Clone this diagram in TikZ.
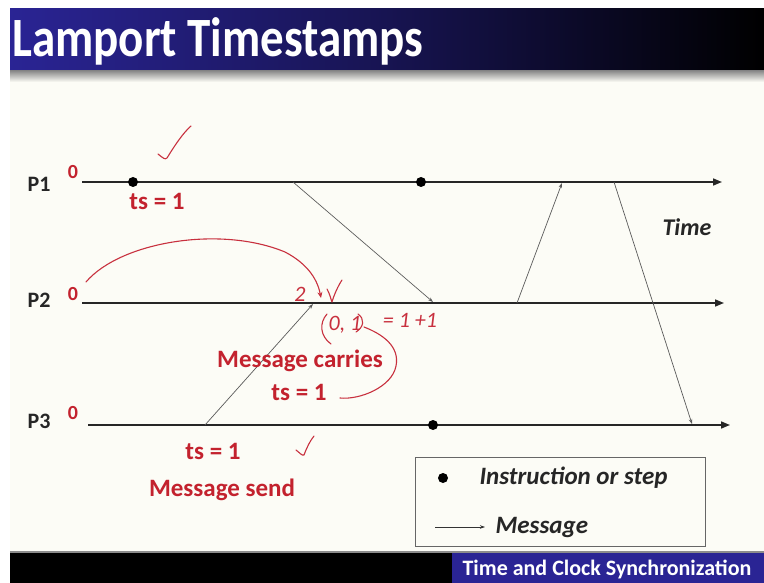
\documentclass[tikz,border=0pt]{standalone}
\usepackage{fontspec}
\setmainfont{Carlito}
\usetikzlibrary{arrows.meta}
\definecolor{slidebg}{HTML}{FCFCF6}
\definecolor{titleblue}{HTML}{2A2494}
\definecolor{labelred}{HTML}{C3222E}
\definecolor{penred}{HTML}{C8303E}
\definecolor{msggray}{HTML}{5A5A5A}
\tikzset{
  x=1pt, y=-1pt,
  timeline/.style={line width=1.6pt, draw=black!85, -{Triangle[length=9pt,width=7pt]}},
  msg/.style={line width=0.7pt, draw=msggray, -{Stealth[length=5pt,width=3.5pt]}},
  event/.style={circle, fill=black, inner sep=0pt, minimum size=10pt},
  proc/.style={font=\bfseries\fontsize{22}{24}\selectfont, text=black!85},
  zero/.style={font=\bfseries\fontsize{20}{22}\selectfont, text=labelred},
  redlabel/.style={font=\bfseries\fontsize{25}{28}\selectfont, text=labelred, align=center},
  pen/.style={draw=penred, line width=1.1pt, line cap=round, line join=round},
  pentext/.style={font=\itshape\fontsize{22}{24}\selectfont, text=penred},
  legendtext/.style={font=\bfseries\itshape\fontsize{25}{28}\selectfont, text=black!85, anchor=west}
}
\begin{document}
\begin{tikzpicture}
\useasboundingbox (0,0) rectangle (764,583);
\fill[white] (0,0) rectangle (764,583);
\fill[slidebg] (10,9) rectangle (764,553);

% title bar and its shadow
\shade[left color=titleblue, right color=black, middle color=titleblue!55!black] (10,9) rectangle (764,71);
\shade[top color=black!45, bottom color=slidebg] (10,71) rectangle (764,82);
\node[anchor=west, text=white, font=\bfseries\fontsize{47}{50}\selectfont, yscale=1.18, inner sep=0pt] (title) at (12,41) {Lamport Timestamps};

% footer bar
\fill[black!45] (10,551) rectangle (764,553);
\fill[black] (10,553) rectangle (452,583);
\fill[titleblue] (452,553) rectangle (764,583);
\node[text=white, font=\bfseries\fontsize{22}{24}\selectfont] (footer) at (607,569) {Time and Clock Synchronization};

% process time lines
\coordinate (p1s) at (82,182);  \coordinate (p1e) at (722,182);
\coordinate (p2s) at (82,303);  \coordinate (p2e) at (724,303);
\coordinate (p3s) at (88,425);  \coordinate (p3e) at (730,425);
\draw[timeline] (p1s) -- (p1e);
\draw[timeline] (p2s) -- (p2e);
\draw[timeline] (p3s) -- (p3e);

\node[proc] (P1) at (39,184) {P1};
\node[proc] (P2) at (39,300) {P2};
\node[proc] (P3) at (39,421) {P3};
\node[zero] (z1) at (73,172) {0};
\node[zero] (z2) at (73,294) {0};
\node[zero] (z3) at (73,413) {0};

\node[font=\bfseries\itshape\fontsize{24}{26}\selectfont, text=black!85] (time) at (687,227) {Time};

% events
\node[event] (e1) at (133,182) {};
\node[event] (e2) at (421,182) {};
\node[event] (e3) at (433,425) {};

% message end points
\coordinate (m1s) at (293,182); \coordinate (m1e) at (433,302);
\coordinate (m2s) at (205,425); \coordinate (m2e) at (313,304);
\coordinate (m3s) at (517,303); \coordinate (m3e) at (562,183);
\coordinate (m4s) at (614,182); \coordinate (m4e) at (692,424);
\draw[msg] (m1s) -- (m1e);
\draw[msg] (m2s) -- (m2e);
\draw[msg] (m3s) -- (m3e);
\draw[msg] (m4s) -- (m4e);

% red labels
\node[redlabel] (ts1) at (157,201) {ts = 1};
\node[redlabel] (carry) at (300,361) {Message carries};
\node[redlabel] (ts2) at (299,392) {ts = 1};
\node[redlabel] (ts3) at (213,451) {ts = 1};
\node[redlabel] (send) at (222,490) {Message send};

% pen annotations
\draw[pen] (158,154) .. controls (163,158) and (165,160) .. (167,158)
  .. controls (175,145) and (183,133) .. (191,126);
\draw[pen] (296,450) .. controls (300,453) and (302,456) .. (304,455)
  .. controls (307,447) and (310,441) .. (314,436);
\draw[pen, -{Stealth[length=6pt,width=5pt]}] (86,282) .. controls (120,242) and (220,225) .. (285,252)
  .. controls (310,265) and (318,282) .. (321,298);
\draw[pen] (327,289) .. controls (330,294) and (331,300) .. (332,302)
  .. controls (334,295) and (338,286) .. (342,280);
\node[pentext] (two) at (300,294) {2};
\node[pentext] (pair) at (345,325) {0, 1};
\draw[pen] (327,314) .. controls (319,323) and (320,336) .. (331,344);
\draw[pen] (358,314) .. controls (365,319) and (364,327) .. (356,332);
\node[pentext] (sum) at (410,320) {= 1 +1};
\draw[pen] (340,398) .. controls (360,400) and (392,387) .. (396,366)
  .. controls (400,346) and (382,334) .. (364,327);

% legend
\node[draw=black!60, line width=0.8pt, fill=slidebg, minimum width=290pt, minimum height=89pt, anchor=north west] (legend) at (415,457) {};
\node[event] (ldot) at (443,478) {};
\node[legendtext] (ldottext) at (476,478) {Instruction or step};
\coordinate (la) at (435,527); \coordinate (lb) at (485,527);
\draw[msg, draw=black!80, line width=0.8pt] (la) -- (lb);
\node[legendtext] (lmsg) at (492,527) {Message};
\end{tikzpicture}
\end{document}
